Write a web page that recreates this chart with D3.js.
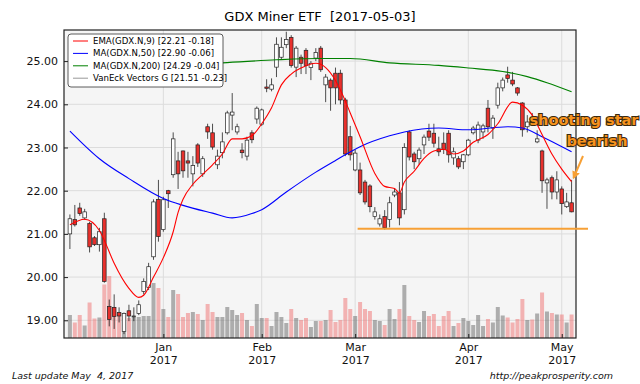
<!DOCTYPE html>
<html>
<head>
<meta charset="utf-8">
<script src="https://cdn.jsdelivr.net/npm/d3@7"></script>
<style>
  body { margin: 0; background: #fff; }
  svg { display: block; font-family: "DejaVu Sans", sans-serif; }
</style>
</head>
<body>
<div id="main"></div>
<script>
// GDX daily candles, 2016-12-05 .. 2017-05-03 (one entry per trading day)
const opens  = [21.00,21.33,21.60,21.37,21.24,20.91,20.75,21.35,19.32,19.30,19.18,18.74,19.22,19.08,19.16,19.67,19.76,20.47,21.80,21.10,
                22.00,22.37,22.69,22.92,22.69,22.39,23.06,22.39,23.48,23.34,22.60,22.88,23.34,23.75,23.36,22.94,22.80,23.34,23.66,23.54,
                24.40,24.35,24.86,25.09,25.38,25.55,24.86,25.09,25.25,24.85,25.07,25.30,24.45,24.56,24.72,24.72,24.10,23.25,22.48,22.48,
                22.20,22.11,21.40,21.23,21.40,21.33,21.90,21.95,21.56,23.36,22.85,22.74,23.06,23.38,23.33,22.97,23.10,23.33,22.76,22.74,
                22.67,22.83,23.34,23.17,23.36,23.91,23.45,23.98,24.38,24.68,24.56,24.38,24.03,23.48,23.70,23.13,22.92,22.18,22.30,21.97,
                22.04,21.63,21.72]
const highs  = [21.45,21.67,21.72,21.58,21.28,20.95,21.14,21.49,19.48,19.60,19.30,19.18,19.36,19.30,19.46,19.97,20.33,21.80,22.25,21.86,
                22.02,23.35,22.90,22.93,22.90,22.80,23.10,22.80,23.55,23.55,22.95,23.35,23.85,24.26,23.55,23.10,23.25,23.40,23.95,23.90,
                24.58,24.60,25.55,25.55,25.68,25.60,25.35,25.15,25.30,25.00,25.30,25.35,24.70,24.60,24.85,24.80,24.15,23.50,22.95,22.65,
                22.25,22.15,21.62,21.45,21.55,21.86,22.05,22.20,23.10,23.40,22.90,23.00,23.30,23.55,23.55,23.25,23.35,23.40,23.00,22.80,
                22.85,23.20,23.50,23.60,23.55,24.10,23.75,24.50,24.62,24.87,24.75,24.40,24.05,23.75,23.80,23.40,22.95,22.30,22.35,22.45,
                22.10,21.95,22.25]
const lows   = [20.65,21.17,21.42,21.33,20.57,20.72,20.59,19.87,18.86,18.80,18.95,18.68,18.98,18.98,19.12,19.60,19.70,20.40,20.82,21.05,
                21.60,22.30,22.04,22.30,22.30,22.10,22.55,22.32,23.20,22.95,22.50,22.75,23.30,23.40,23.30,22.75,22.70,23.10,23.55,23.50,
                24.28,24.30,24.63,25.05,25.30,24.85,24.63,24.70,24.70,24.56,25.00,24.75,24.05,23.85,24.00,24.00,22.80,22.70,22.45,21.90,
                21.68,21.50,21.33,21.17,21.10,21.15,21.85,21.20,21.45,22.70,22.50,22.60,22.85,23.15,23.00,22.80,22.85,22.65,22.60,22.50,
                22.50,22.80,23.30,23.10,23.20,23.35,23.20,23.90,24.30,24.50,24.42,24.20,23.25,23.35,23.50,23.10,21.95,21.58,21.80,21.80,
                21.45,21.60,21.50]
const closes = [21.35,21.21,21.47,21.51,20.70,20.75,21.05,19.90,19.02,19.09,19.10,19.16,19.10,19.10,19.36,19.90,20.24,21.74,20.94,21.79,
                21.93,23.20,22.39,22.46,22.64,22.58,22.64,22.74,23.36,23.01,22.80,23.13,23.80,23.82,23.48,22.88,23.17,23.18,23.91,23.87,
                24.37,24.45,25.39,25.32,25.50,24.90,25.30,24.95,24.90,24.95,25.20,24.80,24.63,24.38,24.38,24.10,22.85,22.83,22.87,21.95,
                21.74,21.63,21.51,21.35,21.14,21.72,21.97,21.37,23.00,22.78,22.67,22.94,23.24,23.24,23.10,22.90,22.95,22.83,22.90,22.55,
                22.83,23.17,23.45,23.52,23.50,23.48,23.68,24.38,24.56,24.60,24.47,24.26,23.41,23.59,23.60,23.20,22.23,22.25,21.97,22.25,
                21.70,21.74,21.51]
// volume, millions of shares
const volumes = [46,31,46,25,71,39,41,107,124,62,50,48,40,42,42,44,44,110,100,58,
                 42,96,88,42,50,52,48,36,68,52,42,42,62,56,46,50,36,24,68,40,
                 40,24,52,42,30,58,40,36,40,22,34,34,36,56,32,36,80,58,44,72,
                 58,54,36,34,26,58,38,58,106,44,36,32,54,44,48,24,44,54,24,30,
                 40,34,26,46,24,38,31,62,45,41,31,38,78,36,37,49,91,53,50,47,
                 47,31,47]

// indicator lines, [trading-day index, value]
const ema9 = [[0,21.21],[3,21.34],[6,21.08],[7,20.85],[9,20.32],[12,19.74],[14,19.53],[15,19.58],[17,20.0],[19,20.45],
              [21,21.05],[22,21.5],[23,21.8],[25,22.15],[27,22.38],[29,22.6],[31,22.85],[33,23.2],[35,23.2],[37,23.27],
              [39,23.55],[41,23.92],[43,24.45],[45,24.7],[47,24.84],[50,24.95],[52,24.85],[54,24.55],[55,24.33],[57,23.8],
              [59,23.25],[62,22.4],[64,22.1],[66,22.05],[67,21.95],[68,22.2],[70,22.45],[72,22.75],[74,22.92],[76,22.96],
              [78,22.85],[80,22.92],[82,23.12],[85,23.3],[87,23.55],[90,24.05],[92,23.98],[94,23.75],[96,23.3],[98,22.85],
              [100,22.5],[102,22.21]]
const ma50 = [[0,23.38],[6,22.74],[12,22.28],[19,21.82],[23,21.66],[29,21.48],[33,21.37],[37,21.47],[39,21.56],[44,21.97],
              [50,22.43],[54,22.70],[59,23.02],[65,23.27],[68,23.36],[75,23.45],[81,23.41],[89,23.48],[92,23.45],[96,23.25],
              [102,22.90]]
const ma200 = [[0,24.80],[15,24.90],[31,24.96],[42,25.03],[51,25.06],[57,25.06],[65,24.96],[75,24.90],[81,24.84],[88,24.76],
               [90,24.72],[93,24.64],[97,24.50],[102,24.29]]

const legendLabels = ["EMA(GDX.N,9) [22.21 -0.18]", "MA(GDX.N,50) [22.90 -0.06]",
                      "MA(GDX.N,200) [24.29 -0.04]", "VanEck Vectors G [21.51 -0.23]"]
const legendColors = ["#ff0000", "#0000ff", "#008000", "#999999"]
const yTicks = [19, 20, 21, 22, 23, 24, 25]
const holidays = ["2016-12-26", "2017-01-02", "2017-01-16", "2017-02-20", "2017-04-14"]
const supportLevel = 21.12

const width = 640
const height = 384
const plot = {left: 64, right: 576, top: 30, bottom: 338}

const fmtDay = d3.timeFormat("%Y-%m-%d")
const dates = d3.timeDay.range(new Date(2016, 11, 5), new Date(2017, 4, 4))
  .filter(d => d.getDay() % 6 !== 0 && !holidays.includes(fmtDay(d)))
const monthStarts = dates.map((d, i) => i).filter(i => i > 0 && dates[i].getMonth() !== dates[i - 1].getMonth())

const svg = d3.select("#main").append("svg")
  .attr("width", width)
  .attr("height", height)

const x = d3.scaleLinear().domain([-1.2, 102.9]).range([plot.left, plot.right])
const y = d3.scaleLinear().domain([18.59, 25.72]).range([plot.bottom, plot.top])
const yVol = d3.scaleLinear().domain([0, 600]).range([plot.bottom, plot.bottom - 300])

svg.append("defs").append("clipPath").attr("id", "clip")
  .append("rect")
  .attr("x", plot.left).attr("y", plot.top)
  .attr("width", plot.right - plot.left).attr("height", plot.bottom - plot.top)

svg.append("rect")
  .attr("x", plot.left).attr("y", plot.top)
  .attr("width", plot.right - plot.left).attr("height", plot.bottom - plot.top)
  .attr("fill", "#f5f5f5")

// grid
const grid = svg.append("g").attr("stroke", "#dcdcdc").attr("stroke-width", 1)
grid.selectAll("line.h").data(yTicks).join("line")
  .attr("x1", plot.left).attr("x2", plot.right)
  .attr("y1", d => y(d)).attr("y2", d => y(d))
grid.selectAll("line.v").data(monthStarts).join("line")
  .attr("y1", plot.top).attr("y2", plot.bottom)
  .attr("x1", d => x(d)).attr("x2", d => x(d))

const body = svg.append("g").attr("clip-path", "url(#clip)")

// volume
body.append("g").selectAll("rect").data(volumes).join("rect")
  .attr("x", (d, i) => x(i) - 2)
  .attr("width", 4)
  .attr("y", d => yVol(d))
  .attr("height", d => plot.bottom - yVol(d))
  .attr("fill", (d, i) => closes[i] < opens[i] ? "#f07070" : "#666")
  .attr("fill-opacity", 0.5)

// candles
const candles = body.append("g").selectAll("g").data(closes).join("g")
candles.append("line")
  .attr("x1", (d, i) => x(i)).attr("x2", (d, i) => x(i))
  .attr("y1", (d, i) => y(highs[i])).attr("y2", (d, i) => y(lows[i]))
  .attr("stroke", "#222").attr("stroke-width", 0.8)
candles.append("rect")
  .attr("x", (d, i) => x(i) - 1.8)
  .attr("width", 3.6)
  .attr("y", (d, i) => y(Math.max(opens[i], d)))
  .attr("height", (d, i) => Math.max(0.8, Math.abs(y(opens[i]) - y(d))))
  .attr("fill", (d, i) => d < opens[i] ? "#e8302c" : "#fff")
  .attr("stroke", "#222").attr("stroke-width", 0.7)

// moving averages
const line = d3.line().curve(d3.curveMonotoneX).x(d => x(d[0])).y(d => y(d[1]))
body.append("path").datum(ma200).attr("d", line).attr("fill", "none").attr("stroke", "#008000").attr("stroke-width", 1.1)
body.append("path").datum(ma50).attr("d", line).attr("fill", "none").attr("stroke", "#0000ff").attr("stroke-width", 1.1)
body.append("path").datum(ema9).attr("d", line).attr("fill", "none").attr("stroke", "#ff0000").attr("stroke-width", 1.1)

// axes
const yAxis = d3.axisLeft(y).tickValues(yTicks).tickFormat(d3.format(".2f"))
  .tickSizeInner(-4).tickSizeOuter(0).tickPadding(6)
const yG = svg.append("g").attr("transform", `translate(${plot.left},0)`).call(yAxis)

const monthFmt = d3.timeFormat("%b")
const xAxis = d3.axisBottom(x).tickValues(monthStarts).tickFormat(i => monthFmt(dates[i]))
  .tickSizeInner(-4).tickSizeOuter(0).tickPadding(6)
const xG = svg.append("g").attr("transform", `translate(0,${plot.bottom})`).call(xAxis)
xG.selectAll(".tick text").each(function (i) {
  const t = d3.select(this).text(null)
  t.append("tspan").attr("x", 0).attr("dy", "0.6em").text(monthFmt(dates[i]))
  t.append("tspan").attr("x", 0).attr("dy", "1.2em").text(dates[i].getFullYear())
})
for (const g of [xG, yG]) {
  g.select(".domain").remove()
  g.selectAll(".tick line").attr("stroke", "#222")
  g.selectAll(".tick text").attr("fill", "#111").attr("font-size", 11).attr("font-family", "DejaVu Sans")
}

svg.append("rect")
  .attr("x", plot.left).attr("y", plot.top)
  .attr("width", plot.right - plot.left).attr("height", plot.bottom - plot.top)
  .attr("fill", "none").attr("stroke", "#222").attr("stroke-width", 1.2)

// title
svg.append("text")
  .attr("x", (plot.left + plot.right) / 2).attr("y", 21)
  .attr("text-anchor", "middle").attr("font-size", 13)
  .attr("xml:space", "preserve")
  .text("GDX Miner ETF  [2017-05-03]")

// legend
const lg = svg.append("g").attr("transform", "translate(68,34)")
lg.append("rect").attr("width", 155).attr("height", 53).attr("rx", 3)
  .attr("fill", "#fff").attr("stroke", "#333").attr("stroke-width", 0.8)
const entries = lg.selectAll("g").data(legendLabels).join("g")
  .attr("transform", (d, i) => `translate(0,${7 + i * 12.4})`)
entries.append("line").attr("x1", 5).attr("x2", 20)
  .attr("stroke", (d, i) => legendColors[i]).attr("stroke-width", 1)
entries.append("text").attr("x", 25).attr("dy", "0.35em").attr("font-size", 8.6).text(d => d)

// support line + annotation
svg.append("line")
  .attr("x1", x(58.5)).attr("x2", 588)
  .attr("y1", y(supportLevel)).attr("y2", y(supportLevel))
  .attr("stroke", "#f7a035").attr("stroke-width", 2)

svg.append("defs").append("marker").attr("id", "head")
  .attr("viewBox", "0 0 10 10").attr("refX", 8).attr("refY", 5)
  .attr("markerWidth", 4).attr("markerHeight", 4).attr("orient", "auto")
  .append("path").attr("d", "M0,0L10,5L0,10z").attr("fill", "#f7a035")
svg.append("line")
  .attr("x1", 583).attr("y1", 156).attr("x2", x(102) + 2).attr("y2", y(highs[102]) - 2)
  .attr("stroke", "#f7a035").attr("stroke-width", 2).attr("marker-end", "url(#head)")

const note = svg.append("g").attr("font-size", 14.5).attr("font-weight", "bold")
  .attr("fill", "#f7931e").attr("stroke", "#3a2a10").attr("stroke-width", 2.2)
  .attr("paint-order", "stroke").attr("text-anchor", "middle")
note.append("text").attr("x", 584).attr("y", 125).text("shooting star")
note.append("text").attr("x", 597).attr("y", 146).text("bearish")

// footer
const foot = svg.append("g").attr("font-size", 9.5).attr("font-style", "italic").attr("fill", "#111")
foot.append("text").attr("x", 12).attr("y", 379).attr("xml:space", "preserve").text("Last update May  4, 2017")
foot.append("text").attr("x", 613).attr("y", 379).attr("text-anchor", "end").text("http://peakprosperity.com")
</script>
</body>
</html>
